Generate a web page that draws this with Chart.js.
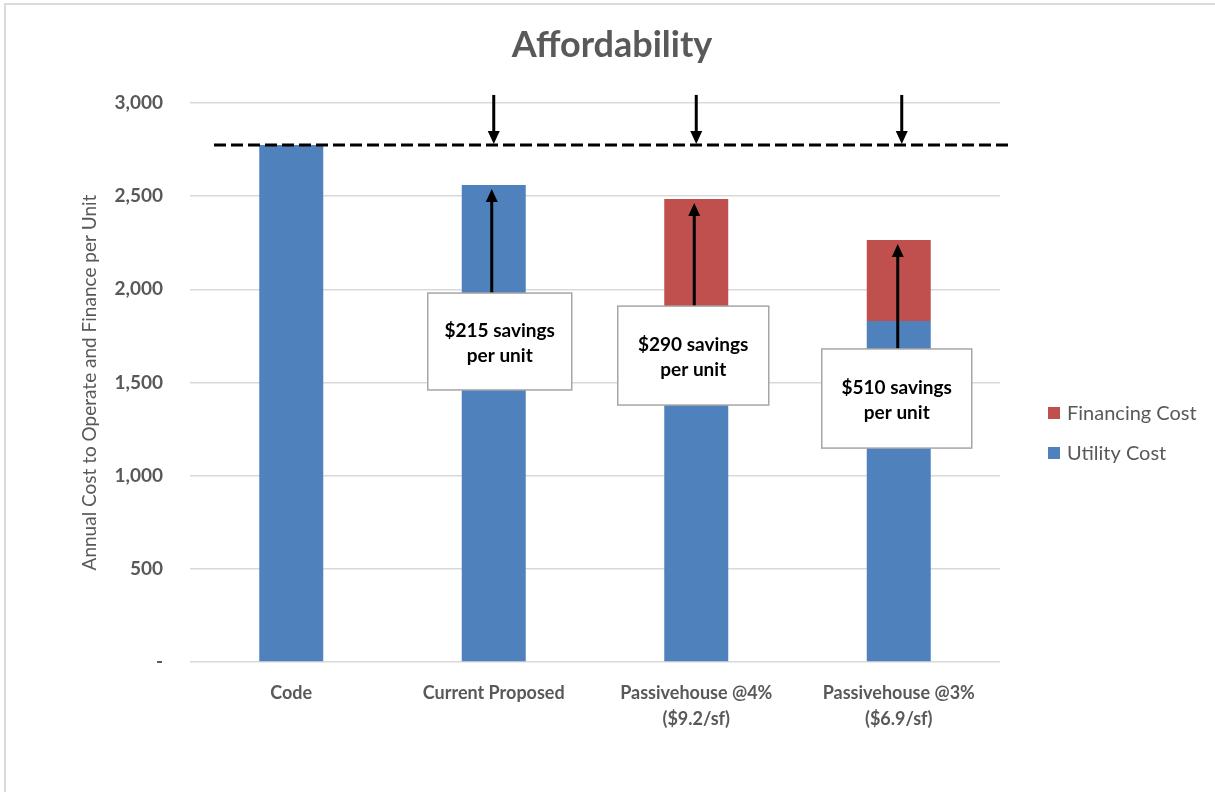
<!DOCTYPE html>
<html>
<head>
<meta charset="utf-8">
<title>Affordability</title>
<script src="https://cdn.jsdelivr.net/npm/chart.js@4/dist/chart.umd.min.js"></script>
<style>
  html, body { margin: 0; padding: 0; background: #ffffff; }
  #wrap { position: relative; width: 1215px; height: 792px; overflow: hidden; }
  #frame { position: absolute; left: 4px; top: 3px; width: 1300px; height: 900px;
           border-top: 2px solid #d9d9d9; border-left: 2px solid #d9d9d9; }
  canvas { position: absolute; left: 0; top: 0; }
</style>
</head>
<body>
<div id="wrap">
  <div id="frame"></div>
  <canvas id="chart" width="1215" height="792"></canvas>
</div>
<script>
// Scenarios and annual cost per unit ($)
const categories = ['Code', 'Current Proposed', ['Passivehouse @4%', '($9.2/sf)'], ['Passivehouse @3%', '($6.9/sf)']];
const utilityCost = [2775, 2560, 1910, 1830];
const financingCost = [null, null, 575, 435];
const yTicks = [0, 500, 1000, 1500, 2000, 2500, 3000];

const BLUE = '#4f81bd';
const RED = '#c0504d';
const GREY_TEXT = '#595959';
const FONT = 'Lato, "Open Sans", "Liberation Sans", sans-serif';

const totals = utilityCost.map((u, i) => u + (financingCost[i] || 0));
const baseline = totals[0];

// Callout boxes for the savings of each alternative (box spans in axis units)
const callouts = [
  { index: 1, boxTop: 1980, boxBottom: 1460, boxWidth: 144, dx: 6, arrowDx: -2, downDx: 0 },
  { index: 2, boxTop: 1910, boxBottom: 1379, boxWidth: 151, dx: -3, arrowDx: -2, downDx: 0 },
  { index: 3, boxTop: 1680, boxBottom: 1148, boxWidth: 150, dx: -2, arrowDx: -1, downDx: 3 }
];

function arrow(ctx, x, y1, y2) {
  // shaft from y1 to y2, head at y2
  const dir = y2 > y1 ? 1 : -1;
  const head = 13;
  ctx.beginPath();
  ctx.moveTo(x, y1);
  ctx.lineTo(x, y2 - dir * head + dir * 1);
  ctx.lineWidth = 3;
  ctx.strokeStyle = '#000';
  ctx.stroke();
  ctx.beginPath();
  ctx.moveTo(x, y2);
  ctx.lineTo(x - 6, y2 - dir * head);
  ctx.lineTo(x + 6, y2 - dir * head);
  ctx.closePath();
  ctx.fillStyle = '#000';
  ctx.fill();
}

const overlay = {
  id: 'overlay',
  afterDraw(chart) {
    const ctx = chart.ctx;
    const xs = chart.scales.x, ys = chart.scales.y;
    const area = chart.chartArea;
    ctx.save();

    // title
    ctx.fillStyle = GREY_TEXT;
    ctx.font = 'bold 36px ' + FONT;
    ctx.textAlign = 'center';
    ctx.textBaseline = 'middle';
    ctx.fillText('Affordability', 612, 45);

    // reference level of the Code scenario
    const yRef = ys.getPixelForValue(baseline);
    ctx.beginPath();
    ctx.setLineDash([12, 5]);
    ctx.lineWidth = 3;
    ctx.strokeStyle = '#000';
    ctx.moveTo(area.left + 24, yRef);
    ctx.lineTo(area.right + 10, yRef);
    ctx.stroke();
    ctx.setLineDash([]);

    callouts.forEach(c => {
      const cx = xs.getPixelForValue(c.index);
      const top = ys.getPixelForValue(c.boxTop);
      const bottom = ys.getPixelForValue(c.boxBottom);
      // arrow down to the reference level
      arrow(ctx, cx + c.downDx, yRef - 50, yRef - 1);
      // arrow up to the top of the bar
      arrow(ctx, cx + c.arrowDx, top, ys.getPixelForValue(totals[c.index]) + 4);
      // box
      const bx = cx + c.dx - c.boxWidth / 2;
      ctx.fillStyle = '#fff';
      ctx.fillRect(bx, top, c.boxWidth, bottom - top);
      ctx.lineWidth = 1.5;
      ctx.strokeStyle = '#a6a6a6';
      ctx.strokeRect(bx, top, c.boxWidth, bottom - top);
      // text
      const saving = baseline - totals[c.index];
      ctx.fillStyle = '#000';
      ctx.font = 'bold 19px ' + FONT;
      ctx.textAlign = 'center';
      ctx.textBaseline = 'middle';
      const mid = (top + bottom) / 2;
      ctx.fillText('$' + saving + ' savings', cx + c.dx, mid - 11);
      ctx.fillText('per unit', cx + c.dx, mid + 14);
    });

    // legend
    const legend = [
      { label: 'Financing Cost', color: RED, y: 413 },
      { label: 'Utility Cost', color: BLUE, y: 453 }
    ];
    legend.forEach(l => {
      ctx.fillStyle = l.color;
      ctx.fillRect(1048, l.y - 6, 12, 12);
      ctx.fillStyle = GREY_TEXT;
      ctx.font = '20px ' + FONT;
      ctx.textAlign = 'left';
      ctx.textBaseline = 'middle';
      ctx.fillText(l.label, 1067, l.y + 1);
    });
    ctx.restore();
  }
};

new Chart(document.getElementById('chart'), {
  type: 'bar',
  data: {
    labels: categories,
    datasets: [
      { label: 'Utility Cost', data: utilityCost, backgroundColor: BLUE },
      { label: 'Financing Cost', data: financingCost, backgroundColor: RED }
    ]
  },
  options: {
    responsive: false,
    animation: false,
    devicePixelRatio: 1,
    layout: { padding: { left: 78, right: 215, top: 103, bottom: 0 } },
    datasets: { bar: { categoryPercentage: 1, barPercentage: 0.316 } },
    plugins: {
      legend: { display: false },
      title: { display: false },
      tooltip: { enabled: false }
    },
    scales: {
      x: {
        stacked: true,
        grid: { display: false },
        border: { display: false },
        ticks: {
          color: GREY_TEXT,
          font: { family: FONT, size: 18, weight: 'bold', lineHeight: 1.45 },
          padding: 10,
          maxRotation: 0,
          autoSkip: false
        },
        afterFit(scale) { scale.height = 130; }
      },
      y: {
        stacked: true,
        min: 0,
        max: 3000,
        afterBuildTicks(scale) { scale.ticks = yTicks.map(v => ({ value: v })); },
        grid: { color: '#d9d9d9', lineWidth: 1.5, drawTicks: false },
        border: { display: false },
        ticks: {
          color: GREY_TEXT,
          font: { family: FONT, size: 19, weight: 'bold' },
          padding: 27,
          callback: v => v === 0 ? '-' : v.toLocaleString('en-US')
        },
        title: {
          display: true,
          text: 'Annual Cost to Operate and Finance per Unit',
          color: GREY_TEXT,
          font: { family: FONT, size: 19 },
          padding: { top: 0, bottom: 0 }
        },
        afterFit(scale) { scale.width = 112; }
      }
    }
  },
  plugins: [overlay]
});
</script>
</body>
</html>
